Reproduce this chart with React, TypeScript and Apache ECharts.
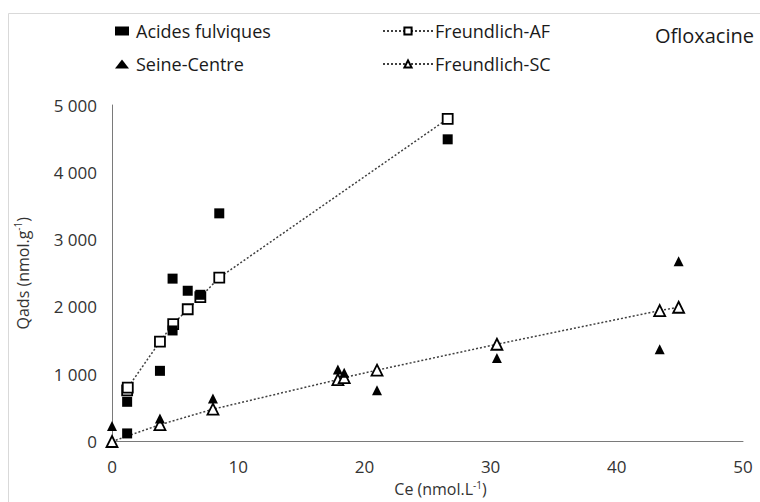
import React, { useEffect, useRef } from "react";
import * as echarts from "echarts";

// Acides fulviques (measured)
const afX = [1.2, 1.2, 3.8, 4.8, 4.8, 6.0, 7.0, 8.5, 26.6];
const afY = [120, 590, 1050, 1650, 2420, 2240, 2180, 3390, 4490];
// Freundlich fit AF
const fAfX = [1.2, 1.25, 3.8, 4.85, 6.0, 7.0, 8.5, 26.6];
const fAfY = [760, 800, 1485, 1745, 1965, 2145, 2435, 4795];
// Seine-Centre (measured)
const scX = [0, 3.8, 8.0, 17.9, 18.4, 21.0, 30.5, 43.4, 44.9];
const scY = [230, 340, 640, 1070, 1020, 760, 1240, 1370, 2680];
// Freundlich fit SC
const fScX = [0, 3.8, 8.0, 17.9, 18.4, 21.0, 30.5, 43.4, 44.9];
const fScY = [0, 250, 480, 920, 950, 1060, 1445, 1945, 1995];

const xTicks = { min: 0, max: 50, interval: 10 };
const yTicks = { min: 0, max: 5000, interval: 1000 };

const FONT = "'Open Sans', 'Noto Sans', sans-serif";
const TXT = "#333333";

const zip = (xs: number[], ys: number[]) => xs.map((x, i) => [x, ys[i]]);

export default function App() {
  const ref = useRef<HTMLDivElement>(null);
  useEffect(() => {
    if (!ref.current) return;
    const chart = echarts.init(ref.current, null, { renderer: "svg" });
    const fmt = (v: number) =>
      String(v).replace(/\B(?=(\d{3})+(?!\d))/g, " ");
    chart.setOption({
      animation: false,
      backgroundColor: "#ffffff",
      textStyle: { fontFamily: FONT },
      title: {
        text: "Ofloxacine",
        right: 1,
        top: 20,
        textStyle: { fontFamily: FONT, fontSize: 20, fontWeight: "normal", color: "#1a1a1a" },
      },
      graphic: [
        {
          type: "rect",
          shape: { x: 8.5, y: 13.5, width: 800, height: 600 },
          style: { fill: "none", stroke: "#d9d9d9", lineWidth: 1 },
          silent: true,
        },
      ],
      legend: [
        {
          orient: "vertical",
          left: 110,
          top: 17,
          itemGap: 15,
          itemWidth: 14,
          itemHeight: 9,
          data: ["Acides fulviques", "Seine-Centre"],
          textStyle: { fontFamily: FONT, fontSize: 18, color: "#1a1a1a", padding: [0, 0, 0, 2] },
        },
        {
          orient: "vertical",
          left: 377,
          top: 17,
          itemGap: 15,
          itemWidth: 50,
          itemHeight: 9,
          data: ["Freundlich-AF", "Freundlich-SC"],
          textStyle: { fontFamily: FONT, fontSize: 18, color: "#1a1a1a", padding: [0, 0, 0, -3] },
        },
      ],
      grid: { left: 112, right: 17, top: 105, bottom: 59, containLabel: false },
      xAxis: {
        type: "value",
        ...xTicks,
        splitLine: { show: false },
        axisTick: { show: false },
        axisLine: { show: true, lineStyle: { color: "#7a7a7a", width: 1 } },
        axisLabel: { color: TXT, fontSize: 17, margin: 16, fontFamily: FONT },
        name: "{a|Ce (nmol.L}{s|-1}{a|)}",
        nameLocation: "middle",
        nameGap: 38,
        nameTextStyle: {
          padding: [0, 0, 0, 26],
          rich: {
            a: { fontSize: 16, color: TXT, fontFamily: FONT },
            s: { fontSize: 10, color: TXT, fontFamily: FONT, padding: [0, 0, 9, 0] },
          },
        },
      },
      yAxis: {
        type: "value",
        ...yTicks,
        splitLine: { show: false },
        axisTick: { show: false },
        axisLine: { show: true, lineStyle: { color: "#7a7a7a", width: 1 } },
        axisLabel: { color: TXT, fontSize: 17, margin: 15, fontFamily: FONT, formatter: fmt },
        name: "{a|Qads (nmol.g}{s|-1}{a|)}",
        nameLocation: "middle",
        nameGap: 80,
        nameTextStyle: {
          rich: {
            a: { fontSize: 16, color: TXT, fontFamily: FONT },
            s: { fontSize: 10, color: TXT, fontFamily: FONT, padding: [0, 0, 9, 0] },
          },
        },
      },
      series: [
        {
          name: "Freundlich-AF",
          type: "line",
          data: zip(fAfX, fAfY),
          symbol: "rect",
          symbolSize: 10,
          showSymbol: true,
          lineStyle: { color: "#404040", width: 1.5, type: [2, 2] },
          itemStyle: { color: "#ffffff", borderColor: "#000000", borderWidth: 1.8, opacity: 1 },
          z: 2,
        },
        {
          name: "Freundlich-SC",
          type: "line",
          data: zip(fScX, fScY),
          symbol: "triangle",
          symbolSize: 11,
          lineStyle: { color: "#404040", width: 1.5, type: [2, 2] },
          itemStyle: { color: "#ffffff", borderColor: "#000000", borderWidth: 1.8, opacity: 1 },
          z: 2,
        },
        {
          name: "Acides fulviques",
          type: "scatter",
          data: zip(afX, afY),
          symbol: "rect",
          symbolSize: 10,
          itemStyle: { color: "#000000", opacity: 1 },
          z: 3,
        },
        {
          name: "Seine-Centre",
          type: "scatter",
          data: zip(scX, scY),
          symbol: "triangle",
          symbolSize: 10,
          itemStyle: { color: "#000000", opacity: 1 },
          z: 3,
        },
      ],
    });
    return () => chart.dispose();
  }, []);
  return (
    <div
      ref={ref}
      style={{ position: "fixed", left: 0, top: 0, width: 760, height: 502 }}
    />
  );
}
